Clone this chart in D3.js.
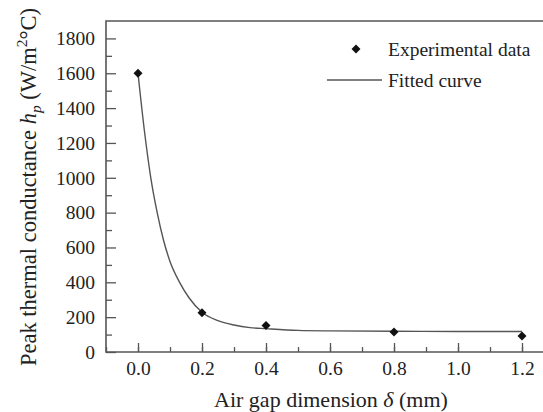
<!DOCTYPE html>
<html>
<head>
<meta charset="utf-8">
<script src="https://cdn.jsdelivr.net/npm/d3@7"></script>
<style>
  body { margin: 0; background: #fff; }
  svg text { font-family: "Liberation Serif", "Times New Roman", "DejaVu Serif", serif !important; fill: #222; }
</style>
</head>
<body>
<script>
const width = 543;
const height = 412;

// measured points
const gapX = [0.0, 0.2, 0.4, 0.8, 1.2];
const peakH = [1600, 225, 152, 115, 92];

// fitted curve
const fitX = [0, 0.02, 0.04, 0.06, 0.08, 0.1, 0.13, 0.16, 0.2, 0.25, 0.3, 0.35, 0.4, 0.5, 0.6, 0.8, 1.0, 1.2];
const fitY = [1600, 1270, 1000, 800, 640, 520, 400, 310, 228, 180, 155, 140, 134, 124, 121, 119, 118, 118];

const xTicks = [0.0, 0.2, 0.4, 0.6, 0.8, 1.0, 1.2];
const yTicks = [0, 200, 400, 600, 800, 1000, 1200, 1400, 1600, 1800];

const mLeft = 106, mTop = 21, mRight = 554, mBottom = 352;

const x = d3.scaleLinear().domain([-0.1, 1.3]).range([mLeft, mRight]);
const y = d3.scaleLinear().domain([0, 1900]).range([mBottom, mTop]);

const svg = d3.select("body")
    .append("svg")
    .attr("width", width)
    .attr("height", height)
    .attr("font-family", "Liberation Serif");

const axisCol = "#555";

// minor ticks
svg.append("g")
    .attr("transform", "translate(0," + mBottom + ")")
    .call(d3.axisBottom(x).tickValues(d3.range(-0.1, 1.31, 0.1).map(d => +d.toFixed(1))).tickSize(-5).tickFormat(""))
    .call(g => g.select(".domain").remove());
svg.append("g")
    .attr("transform", "translate(" + mLeft + ",0)")
    .call(d3.axisLeft(y).tickValues(d3.range(100, 1900, 200)).tickSize(-6).tickFormat(""))
    .call(g => g.select(".domain").remove());

// major ticks
svg.append("g")
    .attr("class", "xaxis")
    .attr("transform", "translate(0," + mBottom + ")")
    .call(d3.axisBottom(x).tickValues(xTicks).tickSize(-9).tickPadding(9).tickFormat(d3.format(".1f")))
    .call(g => g.select(".domain").remove());
svg.append("g")
    .attr("class", "yaxis")
    .attr("transform", "translate(" + mLeft + ",0)")
    .call(d3.axisLeft(y).tickValues(yTicks).tickSize(-10).tickPadding(11).tickFormat(d3.format("d")))
    .call(g => g.select(".domain").remove());

svg.selectAll("g").attr("font-family", "Liberation Serif").attr("font-size", 19.5);
svg.selectAll(".tick line").attr("stroke", axisCol).attr("stroke-width", 1.3);
svg.selectAll(".tick text").attr("fill", "#222");

// frame
svg.append("path")
    .attr("d", "M" + mRight + "," + mTop + "H" + mLeft + "V" + mBottom + "H" + mRight)
    .attr("fill", "none")
    .attr("stroke", axisCol)
    .attr("stroke-width", 1.6);

// fitted curve
const line = d3.line()
    .x(i => x(fitX[i]))
    .y(i => y(fitY[i]))
    .curve(d3.curveMonotoneX);

svg.append("path")
    .attr("d", line(d3.range(fitX.length)))
    .attr("fill", "none")
    .attr("stroke", "#555")
    .attr("stroke-width", 1.4);

// data points
const diamond = d3.symbol().type(d3.symbolSquare).size(40);
svg.selectAll(".pt")
    .data(d3.range(gapX.length))
    .enter()
    .append("path")
    .attr("class", "pt")
    .attr("d", diamond)
    .attr("transform", i => "translate(" + x(gapX[i]) + "," + y(peakH[i]) + ") rotate(45)")
    .attr("fill", "#111");

// legend
svg.append("path")
    .attr("d", diamond)
    .attr("transform", "translate(356,49) rotate(45)")
    .attr("fill", "#111");
svg.append("text")
    .attr("x", 388).attr("y", 56)
    .attr("font-size", 19.5)
    .text("Experimental data");
svg.append("line")
    .attr("x1", 327).attr("x2", 382)
    .attr("y1", 80).attr("y2", 80)
    .attr("stroke", "#555")
    .attr("stroke-width", 1.4);
svg.append("text")
    .attr("x", 388).attr("y", 87)
    .attr("font-size", 19.5)
    .text("Fitted curve");

// axis titles
const xt = svg.append("text")
    .attr("x", 331).attr("y", 407)
    .attr("text-anchor", "middle")
    .attr("font-size", 22);
xt.append("tspan").text("Air gap dimension ");
xt.append("tspan").style("font-style", "italic").text("δ");
xt.append("tspan").text(" (mm)");

const yt = svg.append("text")
    .attr("transform", "translate(36,187) rotate(-90)")
    .attr("text-anchor", "middle")
    .attr("font-size", 22.5);
yt.append("tspan").text("Peak thermal conductance ");
yt.append("tspan").style("font-style", "italic").text("h");
yt.append("tspan").style("font-style", "italic").attr("font-size", 15.5).attr("dy", 5).text("p");
yt.append("tspan").attr("dy", -5).text(" (W/m");
yt.append("tspan").attr("font-size", 15.5).attr("dy", -9).text("2");
yt.append("tspan").attr("dy", 9).text("°C)");
</script>
</body>
</html>
